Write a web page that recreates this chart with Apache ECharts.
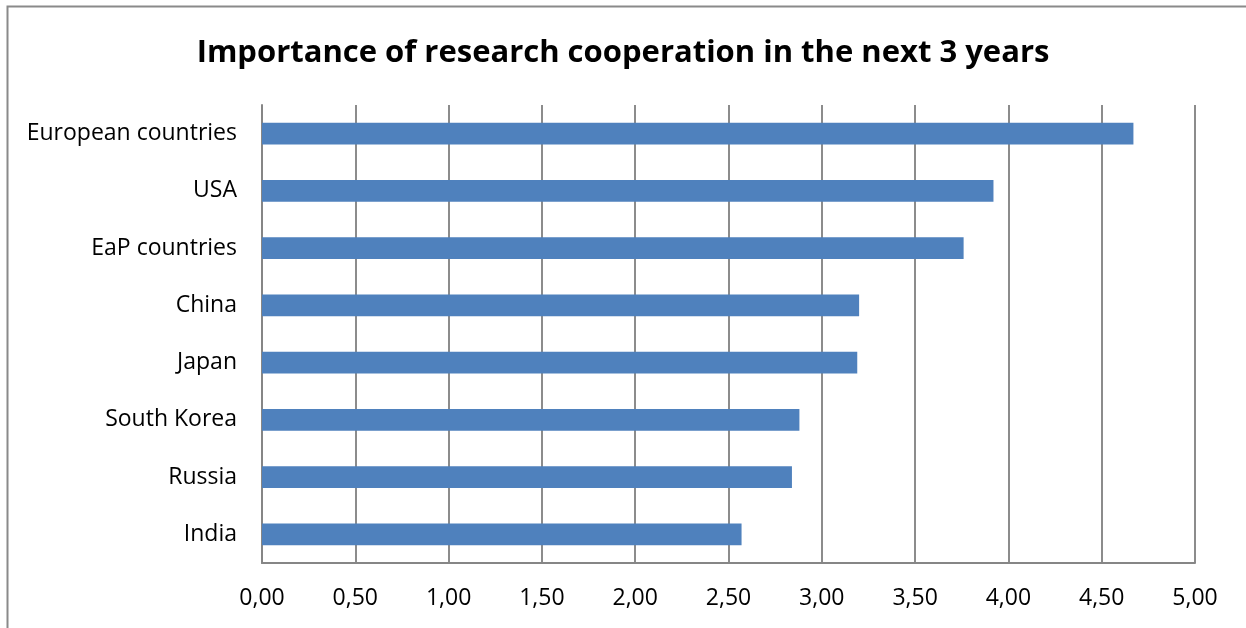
<!DOCTYPE html>
<html><head><meta charset="utf-8">
<script src="https://cdn.jsdelivr.net/npm/echarts@6/dist/echarts.min.js"></script>
<style>html,body{margin:0;padding:0;background:#fff}#c{width:1246px;height:628px}</style>
</head><body><div id="c"></div>
<script>
const titleText = 'Importance of research cooperation in the next 3 years';
const categories = ['European countries','USA','EaP countries','China','Japan','South Korea','Russia','India'];
const values = [4.67, 3.92, 3.76, 3.20, 3.19, 2.88, 2.84, 2.57];
const xTicks = [0,0.5,1,1.5,2,2.5,3,3.5,4,4.5,5];

const FONT = 'Open Sans';
const chart = echarts.init(document.getElementById('c'));
chart.setOption({
  animation:false,
  backgroundColor:'#fff',
  title:{text:titleText,left:'center',top:33,textStyle:{fontFamily:FONT,fontSize:31,fontWeight:'bold',color:'#000'}},
  graphic:[{type:'rect',shape:{x:7.5,y:6.5,width:1300,height:700},style:{fill:'none',stroke:'#8a8a8a',lineWidth:2},silent:true}],
  grid:{left:262,right:51,top:105,bottom:65,containLabel:false},
  xAxis:{type:'value',min:0,max:5,interval:0.5,
    axisLine:{show:true,lineStyle:{color:'#868686',width:2}},
    axisTick:{show:false},
    splitLine:{show:true,lineStyle:{color:'#8c8c8c',width:2}},
    axisLabel:{margin:24,fontFamily:FONT,fontSize:23,color:'#000',formatter:v=>v.toFixed(2).replace('.',',')}},
  yAxis:{type:'category',data:categories,inverse:true,
    axisLine:{show:true,lineStyle:{color:'#868686',width:2}},
    axisTick:{show:false},
    axisLabel:{margin:25,fontFamily:FONT,fontSize:23,color:'#000'}},
  series:[{type:'bar',data:values,barWidth:'38%',itemStyle:{color:'#4f81bd'}}]
});
</script></body></html>
